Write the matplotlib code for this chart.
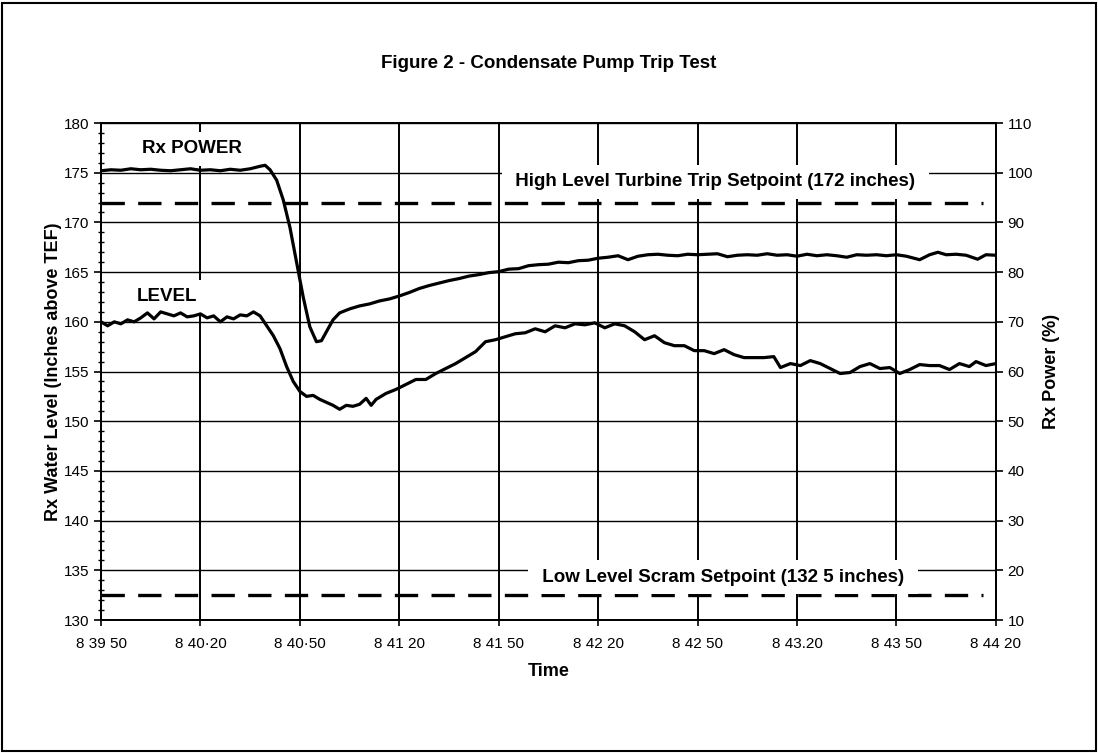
import matplotlib.pyplot as plt
from matplotlib.patches import Rectangle
from matplotlib.ticker import MultipleLocator

plt.rcParams['font.family'] = ['Liberation Sans', 'DejaVu Sans']

# time in seconds after 8:39:50
tick_secs = [0, 30, 60, 90, 120, 150, 180, 210, 240, 270]
tick_labels = ['8 39 50', '8 40·20', '8 40·50', '8 41 20', '8 41 50',
               '8 42 20', '8 42 50', '8 43.20', '8 43 50', '8 44 20']

# Rx power (%), right axis
power_t = [0, 3, 6, 9, 12, 15, 18, 21, 24, 27, 30, 33, 36, 39, 42, 45, 48, 49.5,
           51, 53, 55, 57, 59, 61, 63, 65, 66.5, 68, 70, 72, 75, 78, 81, 84, 87,
           90, 93, 96, 99, 102, 105, 108, 111, 114, 117, 120, 123, 126, 129, 132,
           135, 138, 141, 144, 147, 150, 153, 156, 159, 162, 165, 168, 171, 174,
           177, 180, 183, 186, 189, 192, 195, 198, 201, 204, 207, 210, 213, 216,
           219, 222, 225, 228, 231, 234, 237, 240, 243, 247, 250, 252.5, 255, 258,
           261, 264.5, 267, 270]
power = [100.4, 100.6, 100.5, 100.8, 100.6, 100.7, 100.5, 100.4, 100.6, 100.8,
         100.5, 100.6, 100.4, 100.7, 100.5, 100.8, 101.3, 101.5,
         100.6, 98.5, 94.5, 89.0, 82.0, 75.0, 69.0, 66.0, 66.2, 68.0, 70.4, 71.8,
         72.6, 73.2, 73.6, 74.2, 74.6, 75.2, 75.9, 76.7, 77.3, 77.8, 78.3, 78.7,
         79.2, 79.5, 79.9, 80.1, 80.6, 80.7, 81.3, 81.5, 81.6, 82.0, 81.9, 82.3,
         82.4, 82.8, 83.0, 83.3, 82.5, 83.2, 83.5, 83.6, 83.4, 83.3, 83.6, 83.5,
         83.6, 83.7, 83.1, 83.4, 83.5, 83.4, 83.7, 83.4, 83.5, 83.2, 83.6, 83.3,
         83.5, 83.3, 83.0, 83.5, 83.4, 83.5, 83.3, 83.5, 83.2, 82.5, 83.5, 84.0,
         83.5, 83.6, 83.4, 82.6, 83.5, 83.4]

# Rx water level (inches above TEF), left axis
level_t = [0, 2, 4, 6, 8, 10, 12, 14, 16, 18, 20, 22, 24, 26, 28, 30, 32, 34, 36,
           38, 40, 42, 44, 46, 48, 50, 52, 54, 56, 58, 60, 62, 64, 66, 68, 70, 72,
           74, 76, 78, 80, 81.5, 83, 86, 89, 92, 95, 98, 101, 104, 107, 110, 113,
           116, 119, 122, 125, 128, 131, 134, 137, 140, 143, 146, 149, 152, 155,
           158, 161, 164, 167, 170, 173, 176, 179, 182, 185, 188, 191, 194, 197,
           200, 203, 205, 208, 211, 214, 217, 220, 223, 226, 229, 232, 235, 238,
           241, 244, 247, 250, 253, 256, 259, 262, 264, 267, 270]
level = [160.0, 159.6, 160.0, 159.8, 160.2, 160.0, 160.4, 160.9, 160.3, 161.0,
         160.8, 160.6, 160.9, 160.5, 160.6, 160.8, 160.4, 160.6, 160.0, 160.5,
         160.3, 160.7, 160.6, 161.0, 160.6, 159.6, 158.6, 157.3, 155.5, 154.0,
         153.0, 152.5, 152.6, 152.2, 151.9, 151.6, 151.2, 151.6, 151.5, 151.7,
         152.3, 151.6, 152.2, 152.8, 153.2, 153.7, 154.2, 154.2, 154.8, 155.3,
         155.8, 156.4, 157.0, 158.0, 158.2, 158.5, 158.8, 158.9, 159.3, 159.0,
         159.6, 159.4, 159.8, 159.7, 159.9, 159.4, 159.8, 159.6, 159.0, 158.2,
         158.6, 157.9, 157.6, 157.6, 157.1, 157.1, 156.8, 157.2, 156.7, 156.4,
         156.4, 156.4, 156.5, 155.4, 155.8, 155.6, 156.1, 155.8, 155.3, 154.8,
         154.9, 155.5, 155.8, 155.3, 155.4, 154.8, 155.2, 155.7, 155.6, 155.6,
         155.2, 155.8, 155.5, 156.0, 155.6, 155.8]

high_setpoint = 172.0
low_setpoint = 132.5
setpoint_t = [0, 266]

fig = plt.figure(figsize=(10.98, 7.53), dpi=100)
fig.patches.append(Rectangle((0.002, 0.003), 0.996, 0.993, transform=fig.transFigure,
                             fill=False, edgecolor='black', linewidth=1.5))

ax = fig.add_axes([0.092, 0.1766, 0.815, 0.660])
ax2 = ax.twinx()

ax.set_xlim(0, 270)
ax.set_ylim(130, 180)
ax2.set_ylim(10, 110)

ax.set_xticks(tick_secs)
ax.set_xticklabels(tick_labels)
ax.yaxis.set_major_locator(MultipleLocator(5))
ax.yaxis.set_minor_locator(MultipleLocator(1))
ax2.yaxis.set_major_locator(MultipleLocator(10))

ax.grid(True, which='major', axis='y', color='black', linewidth=1.0)
ax.grid(True, which='major', axis='x', color='black', linewidth=1.4)

for a in (ax, ax2):
    for s in a.spines.values():
        s.set_linewidth(1.3)

ax.tick_params(axis='x', direction='inout', length=8, width=1.2, labelsize=11, pad=8)
ax.tick_params(axis='y', which='major', direction='out', length=5, width=1.2, labelsize=11)
ax.tick_params(axis='y', which='minor', direction='inout', length=5, width=1.0)
ax2.tick_params(axis='y', direction='out', length=5, width=1.2, labelsize=11)

ax.plot(setpoint_t, [high_setpoint, high_setpoint], color='black', linewidth=2.4,
        dashes=(7, 4), zorder=3)
ax.plot(setpoint_t, [low_setpoint, low_setpoint], color='black', linewidth=2.4,
        dashes=(7, 4), zorder=3)
ax.plot(level_t, level, color='black', linewidth=2.3, zorder=4)
ax2.plot(power_t, power, color='black', linewidth=2.3, zorder=4)

box = dict(boxstyle='square,pad=0.45', facecolor='white', edgecolor='none')
ax.text(27.5, 177.4, 'Rx POWER', fontsize=13.5, fontweight='bold', ha='center',
        va='center', bbox=box, zorder=3)
ax.text(19.9, 162.5, 'LEVEL', fontsize=13.5, fontweight='bold', ha='center',
        va='center', bbox=box, zorder=3)
ax.text(185.3, 174.1, ' High Level Turbine Trip Setpoint (172 inches) ', fontsize=13.5,
        fontweight='bold', ha='center', va='center', bbox=box, zorder=3)
ax.text(187.7, 134.3, ' Low Level Scram Setpoint (132 5 inches) ', fontsize=13.5,
        fontweight='bold', ha='center', va='center', bbox=box, zorder=3)

ax.set_ylabel('Rx Water Level (Inches above TEF)', fontsize=13, fontweight='bold', labelpad=1)
ax2.set_ylabel('Rx Power (%)', fontsize=13, fontweight='bold', labelpad=7)
ax.set_xlabel('Time', fontsize=13, fontweight='bold', labelpad=9)
fig.text(0.5, 0.916, 'Figure 2 - Condensate Pump Trip Test', fontsize=13.5,
         fontweight='bold', ha='center', va='center')

fig.savefig('out.png', dpi=100)
